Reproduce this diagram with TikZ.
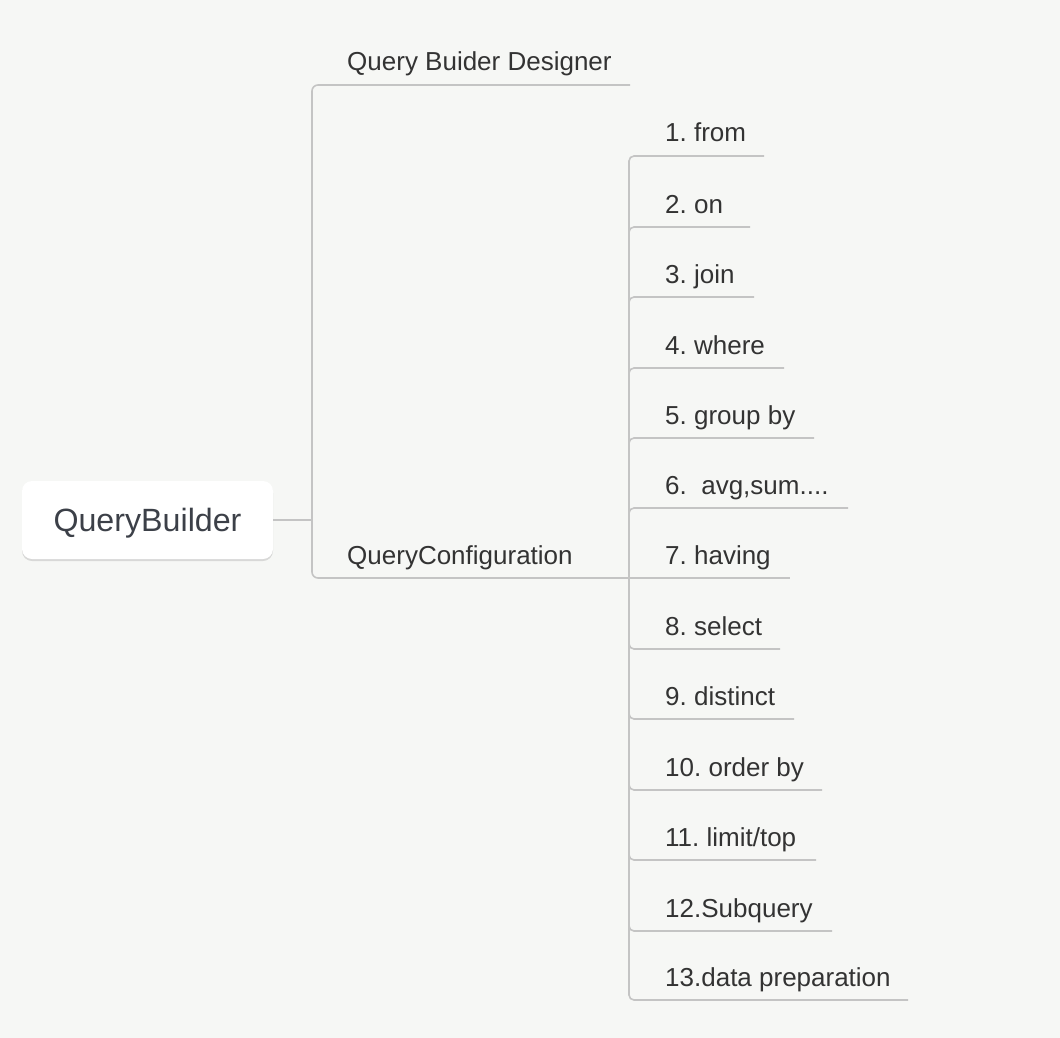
\documentclass[tikz,border=0pt]{standalone}
\usepackage{fontspec}
\setmainfont{Liberation Sans}
\usetikzlibrary{shadows}
\definecolor{bgc}{RGB}{246,247,245}
\definecolor{linec}{RGB}{196,196,196}
\definecolor{txtc}{RGB}{51,51,51}
\definecolor{roottxt}{RGB}{60,64,72}
\frenchspacing
\tikzset{
  conn/.style={draw=linec, line width=1.6pt},
  lbl/.style={anchor=base west, inner sep=0pt, text=txtc, font=\fontsize{26}{30}\selectfont},
  rootbox/.style={draw=none, fill=white, rounded corners=10pt, minimum width=251pt, minimum height=78pt,
    inner sep=0pt, text=roottxt, font=\fontsize{32.2}{36}\selectfont, text height=23pt, text depth=0pt,
    drop shadow={shadow xshift=0pt, shadow yshift=-2pt, opacity=0.12, fill=black}}
}
\begin{document}
\begin{tikzpicture}[x=1pt,y=-1pt]
\fill[bgc] (0,0) rectangle (1060,1038);
\useasboundingbox (0,0) rectangle (1060,1038);

\node[rootbox] (root) at (147.5,520) {QueryBuilder};

\coordinate (vx) at (312,0);
\coordinate (j1) at (root.east -| vx);
\coordinate (d1) at (630,85);
\coordinate (c1) at (629,578);

\node[lbl] (qbd) at (347,71) {Query Buider Designer};
\node[lbl] (qc) at (347,564) {QueryConfiguration};

\draw[conn, line width=2pt] (root.east) -- (j1);
\draw[conn, rounded corners=6pt] (j1) |- (d1);
\draw[conn, rounded corners=6pt] (j1) |- (c1);

\foreach \i/\y/\xe/\t in {
  1/156/764/{1. from},
  2/227/750/{2. on},
  3/297/754/{3. join},
  4/368/784/{4. where},
  5/438/814/{5. group by},
  6/508/848/{6.\ \ avg,sum....},
  8/649/780/{8. select},
  9/719/794/{9. distinct},
  10/790/822/{10. order by},
  11/860/816/{11. limit/top},
  12/931/832/{12.Subquery},
  13/1000/908/{13.data preparation}}{
  \node[lbl] (k\i) at (665,\y-14) {\t};
  \coordinate (e\i) at (\xe,\y);
  \draw[conn, rounded corners=5pt] (c1) |- (e\i);
}
\node[lbl] (k7) at (665,564) {7. having};
\coordinate (e7) at (790,578);
\draw[conn] (c1) -- (e7);
\end{tikzpicture}
\end{document}
